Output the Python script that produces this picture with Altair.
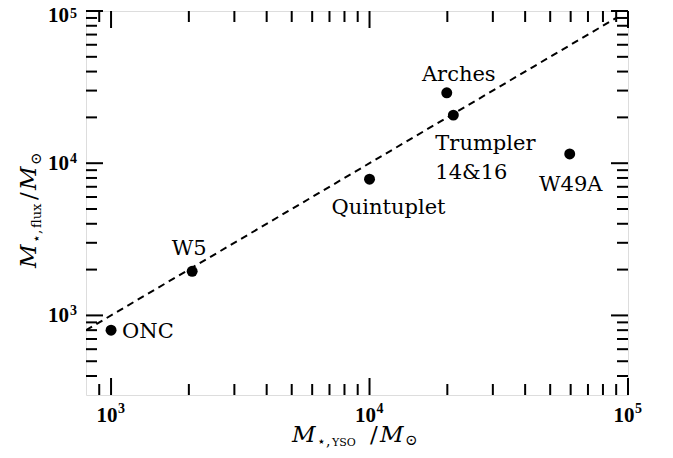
import altair as alt
import pandas as pd

# ---- data ----
names = ["ONC", "W5", "Quintuplet", "Arches", "Trumpler\n14&16", "W49A"]
m_yso = [1000, 2060, 10000, 19900, 21100, 59500]
m_flux = [800, 1950, 7850, 29000, 20700, 11500]

line_x = [800, 90000]
line_y = [800, 90000]

x_major = [1e3, 1e4, 1e5]
x_minor = [900, 2000, 3000, 4000, 5000, 6000, 7000, 8000, 9000,
           20000, 30000, 40000, 50000, 60000, 70000, 80000, 90000]
y_major = [1e3, 1e4, 1e5]
y_minor = [400, 500, 600, 700, 800, 900, 2000, 3000, 4000, 5000, 6000, 7000, 8000, 9000,
           20000, 30000, 40000, 50000, 60000, 70000, 80000, 90000]
major_exp = ["3", "4", "5"]

W, H = 542, 384
FONT = "DejaVu Serif"
TFONT = "Liberation Serif"

xs = alt.Scale(type="log", domain=[800, 100000], nice=False)
ys = alt.Scale(type="log", domain=[300, 100000], nice=False)

X = lambda f: alt.X(f, type="quantitative", scale=xs, axis=None)
Y = lambda f: alt.Y(f, type="quantitative", scale=ys, axis=None)

pts = pd.DataFrame({"name": names, "x": m_yso, "y": m_flux})
line_df = pd.DataFrame({"x": line_x, "y": line_y})

layers = []

# dashed one-to-one line
layers.append(alt.Chart(line_df).mark_line(color="black", strokeWidth=2, strokeDash=[7, 5], clip=True)
              .encode(x=X("x"), y=Y("y")))

# points
layers.append(alt.Chart(pts).mark_circle(color="black", size=120, opacity=1)
              .encode(x=X("x"), y=Y("y")))

# labels
label_style = {
    "ONC": dict(align="left", dx=11, dy=8),
    "W5": dict(align="center", dx=-3, dy=-16),
    "Quintuplet": dict(align="center", dx=19, dy=35),
    "Arches": dict(align="center", dx=12, dy=-12),
    "Trumpler\n14&16": dict(align="left", dx=-18, dy=35),
    "W49A": dict(align="center", dx=1, dy=37),
}
for nm, st in label_style.items():
    sub = pts[pts["name"] == nm]
    layers.append(alt.Chart(sub).mark_text(font=FONT, fontSize=21, color="black", baseline="alphabetic",
                                           lineBreak="\n", lineHeight=29, **st)
                  .encode(x=X("x"), y=Y("y"), text="name:N"))

# inward ticks
def vticks(vals, length):
    df = pd.DataFrame({"x": vals})
    bot = alt.Chart(df).mark_rule(color="black", strokeWidth=2).encode(
        x=X("x"), y=alt.value(H), y2=alt.value(H - length))
    top = alt.Chart(df).mark_rule(color="black", strokeWidth=2).encode(
        x=X("x"), y=alt.value(0), y2=alt.value(length))
    return [bot, top]

def hticks(vals, length):
    df = pd.DataFrame({"y": vals})
    left = alt.Chart(df).mark_rule(color="black", strokeWidth=2).encode(
        y=Y("y"), x=alt.value(0), x2=alt.value(length))
    right = alt.Chart(df).mark_rule(color="black", strokeWidth=2).encode(
        y=Y("y"), x=alt.value(W), x2=alt.value(W - length))
    return [left, right]

layers += vticks(x_major, 17) + vticks(x_minor, 11) + hticks(y_major, 17) + hticks(y_minor, 11)

# tick labels 10^n built from base and exponent text
xl = pd.DataFrame({"x": x_major, "e": major_exp})
layers.append(alt.Chart(xl).mark_text(text="10", font=TFONT, fontSize=21, fontWeight="bold",
                                      align="center", baseline="alphabetic", dx=-4, color="black")
              .encode(x=X("x"), y=alt.value(H + 27)))
layers.append(alt.Chart(xl).mark_text(font=TFONT, fontSize=14, fontWeight="bold",
                                      align="left", baseline="alphabetic", dx=7, color="black")
              .encode(x=X("x"), y=alt.value(H + 18), text="e:N"))

yl = pd.DataFrame({"y": y_major, "e": major_exp})
yl_low = yl[yl["y"] < 1e5]
yl_top = yl[yl["y"] >= 1e5]
for df, base_dy, exp_dy in [(yl_low, 7, 0), (yl_top, 11, 7)]:
    layers.append(alt.Chart(df).mark_text(text="10", font=TFONT, fontSize=21, fontWeight="bold",
                                          align="right", baseline="alphabetic", dy=base_dy, color="black")
                  .encode(x=alt.value(-17), y=Y("y")))
    layers.append(alt.Chart(df).mark_text(font=TFONT, fontSize=14, fontWeight="bold",
                                          align="left", baseline="alphabetic", dy=exp_dy, color="black")
                  .encode(x=alt.value(-16), y=Y("y"), text="e:N"))

# axis titles composed of pieces
one = pd.DataFrame({"a": [0]})
def piece(text, x, y, size, style="normal", angle=0, weight="normal"):
    return alt.Chart(one).mark_text(text=text, font=FONT, fontSize=size, fontStyle=style,
                                    fontWeight=weight, align="left", baseline="alphabetic",
                                    angle=angle, color="black").encode(
        x=alt.value(x), y=alt.value(y))

tb = 431  # x-title baseline (plot coords)
layers += [
    piece("M", 206, tb, 23, "italic"),
    piece("⋆,", 231, tb + 4, 14),
    piece("YSO", 246, tb + 4, 11),
    piece("/", 284, tb, 23),
    piece("M", 294, tb, 23, "italic"),
    piece("⊙", 319, tb + 3, 15),
]
yb = -50  # y-title baseline x (plot coords)
layers += [
    piece("M", yb, 257, 23, "italic", 270),
    piece("⋆,", yb + 5, 232, 14, "normal", 270),
    piece("flux", yb + 5, 217, 13, "normal", 270),
    piece("/", yb, 189, 23, "normal", 270),
    piece("M", yb, 179, 23, "italic", 270),
    piece("⊙", yb + 5, 154, 15, "normal", 270),
]

chart = alt.layer(*layers).properties(
    width=W, height=H,
    autosize=alt.AutoSizeParams(type="none"),
    padding={"left": 78, "top": 3, "right": 37, "bottom": 55},
).configure_view(stroke="black", strokeWidth=2).configure(background="white")

chart.save("out.html", embed_options={"renderer": "svg", "actions": False})
